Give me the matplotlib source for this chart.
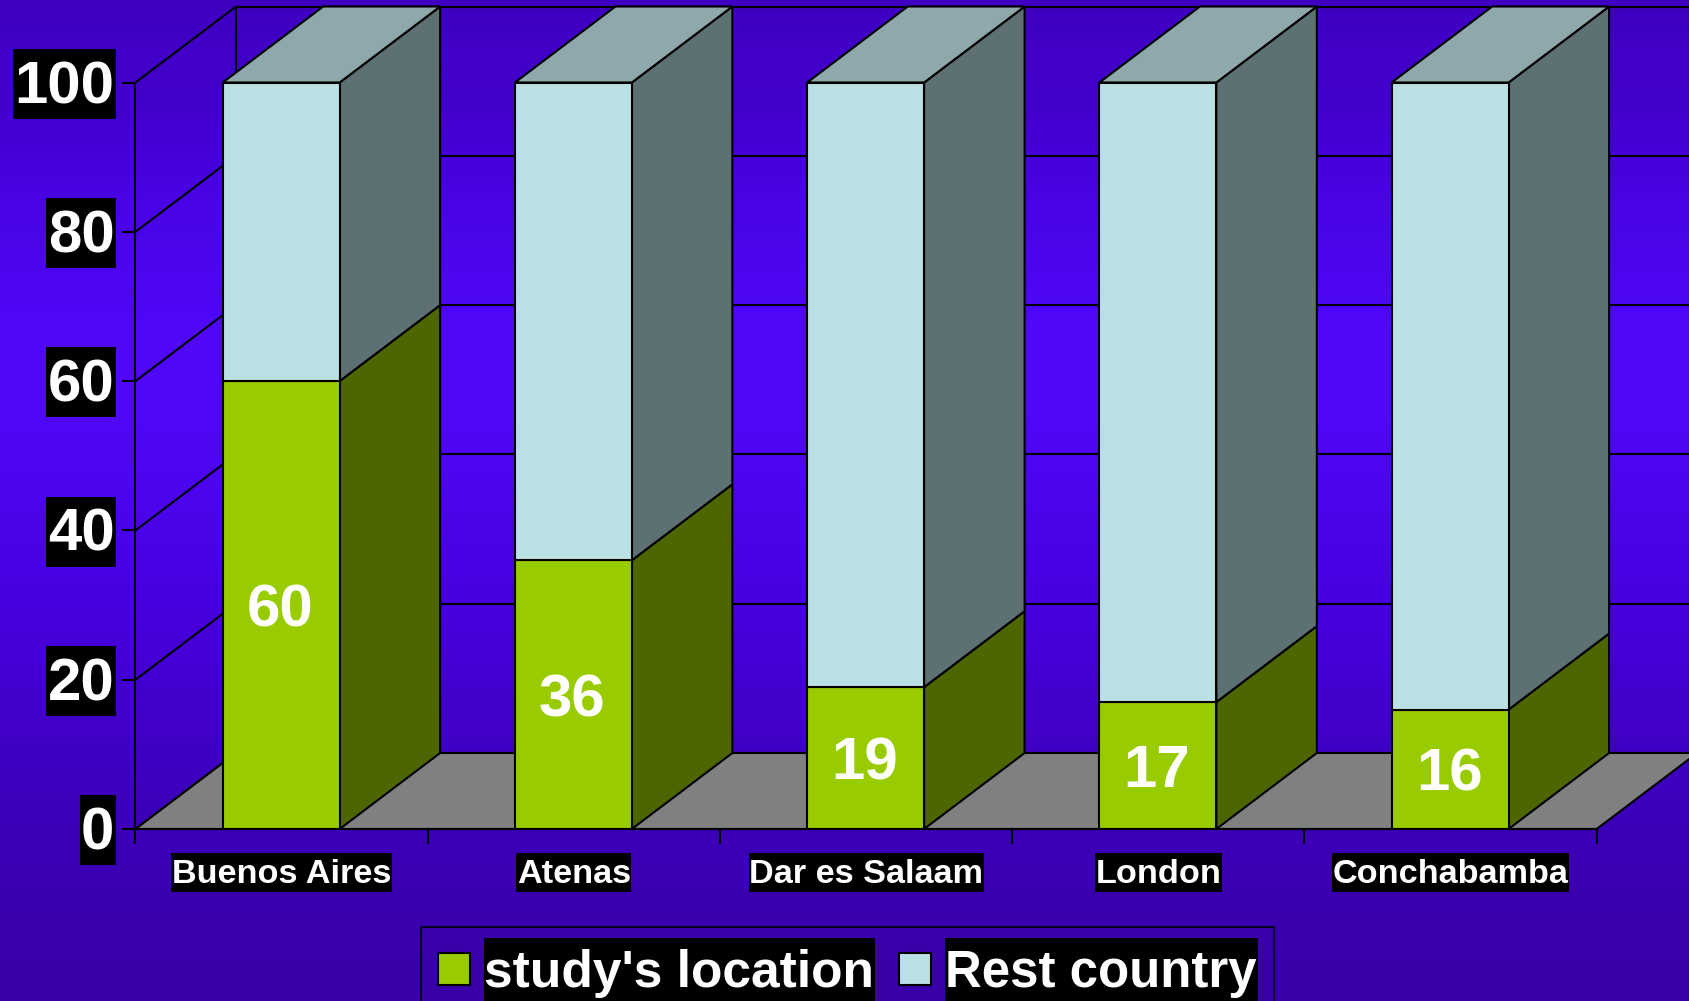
import numpy as np
import matplotlib
matplotlib.use("Agg")
import matplotlib.pyplot as plt
from matplotlib.patches import Polygon, Rectangle
from matplotlib.path import Path
from matplotlib.colors import LinearSegmentedColormap

cities = ["Buenos Aires", "Atenas", "Dar es Salaam", "London", "Conchabamba"]
study_location = [60, 36, 19, 17, 16]
rest_country = [40, 64, 81, 83, 84]
series_names = ["study's location", "Rest country"]
y_ticks = [0, 20, 40, 60, 80, 100]

plt.rcParams["font.family"] = ["Liberation Sans", "DejaVu Sans"]
plt.rcParams["font.weight"] = "bold"

W, H = 1690, 1001
fig = plt.figure(figsize=(W / 100, H / 100), dpi=100)
ax = fig.add_axes([0, 0, 1, 1])
# scales: category units across, value units up
px_x, px_y = 292.24, 7.465
x0_px, y0_px = 135.5, 829.0
xlim = (-x0_px / px_x, (W - x0_px) / px_x)
ylim = ((y0_px - H) / px_y, y0_px / px_y)
ax.set_xlim(*xlim)
ax.set_ylim(*ylim)
ax.axis("off")

DX, DY = 100.5 / px_x, 76.0 / px_y
LW = 1.5
n = len(cities)

# background gradient, top of the picture first
cmap = LinearSegmentedColormap.from_list("bg", [
    (0.0, "#3F00C2"), (0.10, "#4200CC"), (0.20, "#4804E4"), (0.32, "#4F08F8"),
    (0.42, "#4F08F8"), (0.62, "#4600DC"), (0.82, "#3C00B8"), (1.0, "#3800A6")])
grad = np.linspace(0, 1, 256).reshape(-1, 1)
ax.imshow(grad, cmap=cmap, aspect="auto", extent=xlim + ylim, origin="upper", zorder=0)
ax.set_xlim(*xlim)
ax.set_ylim(*ylim)

line = dict(color="black", lw=LW, solid_capstyle="butt", zorder=1)
# walls and gridlines
for v in y_ticks:
    ax.plot([0, DX], [v, v + DY], **line)
    ax.plot([DX, n + DX], [v + DY, v + DY], **line)
    ax.plot([-13 / px_x, 0], [v, v], **line)
ax.plot([0, 0], [0, 100], **line)
ax.plot([DX, DX], [DY, 100 + DY], **line)
ax.add_patch(Polygon([(0, 0), (n, 0), (n + DX, DY), (DX, DY)], closed=True,
                     fc="#808080", ec="black", lw=LW, zorder=1.5))
ax.plot([0, n], [0, 0], color="black", lw=LW, zorder=4)
for i in range(n + 1):
    ax.plot([i, i], [0, -13.5 / px_y], color="black", lw=LW, zorder=4)


def face(pts, color, z):
    ax.add_patch(Polygon(pts, closed=True, fc=color, ec="black", lw=LW,
                         joinstyle="miter", zorder=z))


front = ["#99CC00", "#BBE0E3"]
side = ["#4D6600", "#5D7073"]
top_col = "#8FA8AB"
BW, BL = 0.4, 0.2985
for i, (a, b) in enumerate(zip(study_location, rest_country)):
    l, r = i + BL, i + BL + BW
    z = 2 + i * 0.1
    bottom = 0
    for k, v in enumerate((a, b)):
        t = bottom + v
        face([(r, bottom), (r + DX, bottom + DY), (r + DX, t + DY), (r, t)], side[k], z)
        face([(l, bottom), (r, bottom), (r, t), (l, t)], front[k], z + 0.01)
        bottom = t
    face([(l, bottom), (r, bottom), (r + DX, bottom + DY), (l + DX, bottom + DY)], top_col, z)
    ax.text(i + 0.495, a / 2, str(a), color="white", fontsize=43.2, fontweight="bold",
            ha="center", va="center_baseline", zorder=5)


def tight_box(pad_x, pad_top, pad_bottom):
    def style(x0, y0, width, height, mutation_size):
        x, y = x0 - pad_x, y0 - pad_bottom
        x1, y1 = x0 + width + pad_x, y0 + height + pad_top
        return Path([(x, y), (x1, y), (x1, y1), (x, y1), (x, y)], closed=True)
    return style


for v in y_ticks:
    ax.text(-21 / px_x, v + 0.2 - 0.87, str(v), color="white", fontsize=43.2, fontweight="bold",
            ha="right", va="center",
            bbox=dict(boxstyle=tight_box(1.5, 11.3, 3.7), fc="black", ec="none"), zorder=5)
for i, name in enumerate(cities):
    ax.text(i + 0.5, -45.4 / px_y, name, color="white", fontsize=24.7, fontweight="bold",
            ha="center", va="center",
            bbox=dict(boxstyle=tight_box(0.5, 6, 2), fc="black", ec="none"), zorder=5)

handles = [Rectangle((0, 0), 1, 1, fc=front[k], ec="black", lw=LW) for k in range(2)]
leg = ax.legend(handles, series_names, ncol=2, loc="upper left",
                bbox_to_anchor=(421 / W, 1 - 927 / H), bbox_transform=fig.transFigure,
                borderaxespad=0, fontsize=37.1, frameon=True, fancybox=False,
                facecolor="none", edgecolor="black", framealpha=None,
                handlelength=0.62, handleheight=0.58, handletextpad=0.28,
                columnspacing=0.48, borderpad=0.33, labelcolor="white",
                labelspacing=0, title=" ", title_fontproperties={"size": 4.0})
leg.get_frame().set_linewidth(LW)
leg.set_zorder(6)
for t in leg.get_texts():
    t.set_fontweight("bold")
    t.set_bbox(dict(boxstyle=tight_box(0.5, 11, 5), fc="black", ec="none"))
leg.get_texts()[1].set_fontsize(36.7)

fig.savefig("out.png", dpi=100)
